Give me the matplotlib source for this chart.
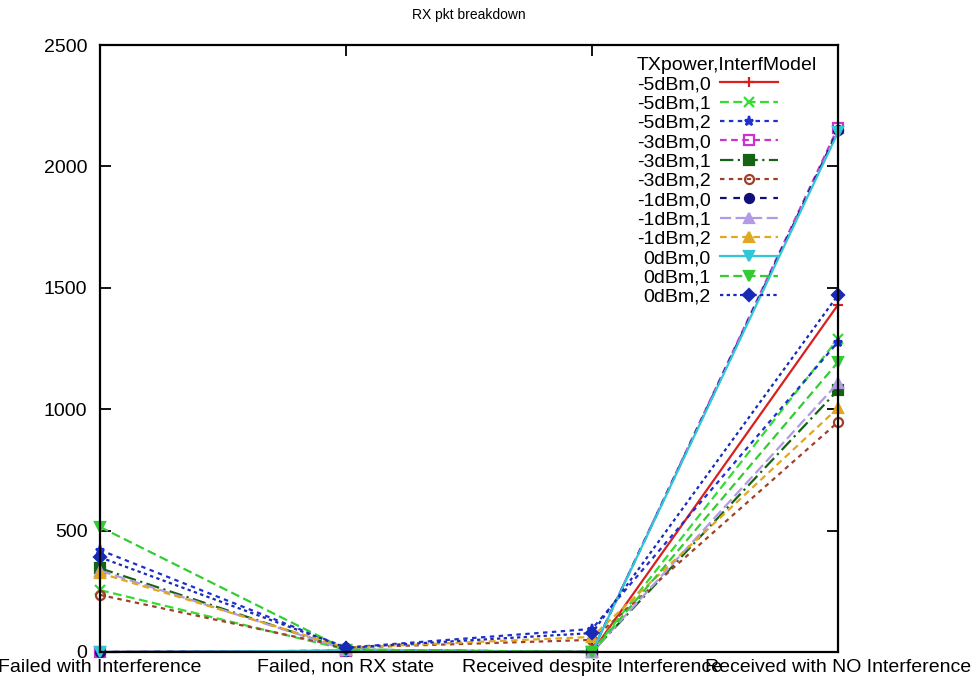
import matplotlib
matplotlib.use("Agg")
import matplotlib.pyplot as plt

plt.rcParams['font.family'] = ['Liberation Sans', 'DejaVu Sans']

categories = ["Failed with Interference", "Failed, non RX state",
              "Received despite Interference", "Received with NO Interference"]

# TXpower,InterfModel series, values per category
series_names = ["-5dBm,0", "-5dBm,1", "-5dBm,2",
                "-3dBm,0", "-3dBm,1", "-3dBm,2",
                "-1dBm,0", "-1dBm,1", "-1dBm,2",
                "0dBm,0", "0dBm,1", "0dBm,2"]
m5_0 = [0, 5, 0, 1430]
m5_1 = [255, 10, 0, 1290]
m5_2 = [420, 18, 95, 1277]
m3_0 = [0, 5, 0, 2160]
m3_1 = [345, 10, 0, 1079]
m3_2 = [235, 18, 50, 947]
m1_0 = [0, 5, 0, 2150]
m1_1 = [335, 10, 0, 1108]
m1_2 = [325, 18, 62, 1005]
p0_0 = [0, 5, 0, 2140]
p0_1 = [515, 10, 0, 1194]
p0_2 = [390, 18, 78, 1470]
values = [m5_0, m5_1, m5_2, m3_0, m3_1, m3_2, m1_0, m1_1, m1_2, p0_0, p0_1, p0_2]

# style per series: color, linestyle, marker, filled
styles = [
    ('#d82020', '-', '+', True),
    ('#33dd33', (0, (4, 2)), 'x', True),
    ('#1f2fd0', (0, (2, 2)), '*', True),
    ('#cc33cc', (0, (3, 2)), 's', False),
    ('#146414', (0, (6, 2, 1, 2)), 's', True),
    ('#a0402a', (0, (2, 2)), 'o', False),
    ('#10107a', (0, (3, 3)), 'o', True),
    ('#b39ae6', (0, (5, 2)), '^', True),
    ('#e0a820', (0, (3, 2)), '^', True),
    ('#30c8d8', '-', 'v', True),
    ('#33cc33', (0, (4, 2)), 'v', True),
    ('#1a2ab8', (0, (1.5, 1.5)), 'D', True),
]

fig = plt.figure(figsize=(9.79, 6.88), dpi=100)
ax = fig.add_axes([100 / 979, 1 - 652 / 688, 738 / 979, 607 / 688])

x = list(range(len(categories)))
for name, vals, (col, ls, mk, filled) in zip(series_names, values, styles):
    ax.plot(x, vals, color=col, linestyle=ls, linewidth=1.6, marker=mk,
            markersize=6.5, markeredgewidth=1.6,
            markerfacecolor=col if filled else 'none', markeredgecolor=col,
            label=name, clip_on=False)

ax.set_xlim(0, 3)
ax.set_ylim(0, 2500)
ax.set_xticks(x)
ax.set_xticklabels(categories)
ax.set_yticks([0, 500, 1000, 1500, 2000, 2500])
ax.tick_params(direction='in', length=8, width=1.3, top=True, right=True,
               labelsize=14)
ax.tick_params(axis='y', pad=9)
ax.tick_params(axis='x', pad=5)
for s in ax.spines.values():
    s.set_linewidth(1.6)

ax.set_title("RX pkt breakdown", fontsize=10, pad=19)

leg = ax.legend(loc='upper left', bbox_to_anchor=(525 / 738, 1.0),
                frameon=False, markerfirst=False, title="TXpower,InterfModel",
                fontsize=14, title_fontsize=14, alignment='left',
                handlelength=3.0, handletextpad=0.5, labelspacing=0.09,
                borderpad=0.1)

fig.savefig("out.png", dpi=100)
